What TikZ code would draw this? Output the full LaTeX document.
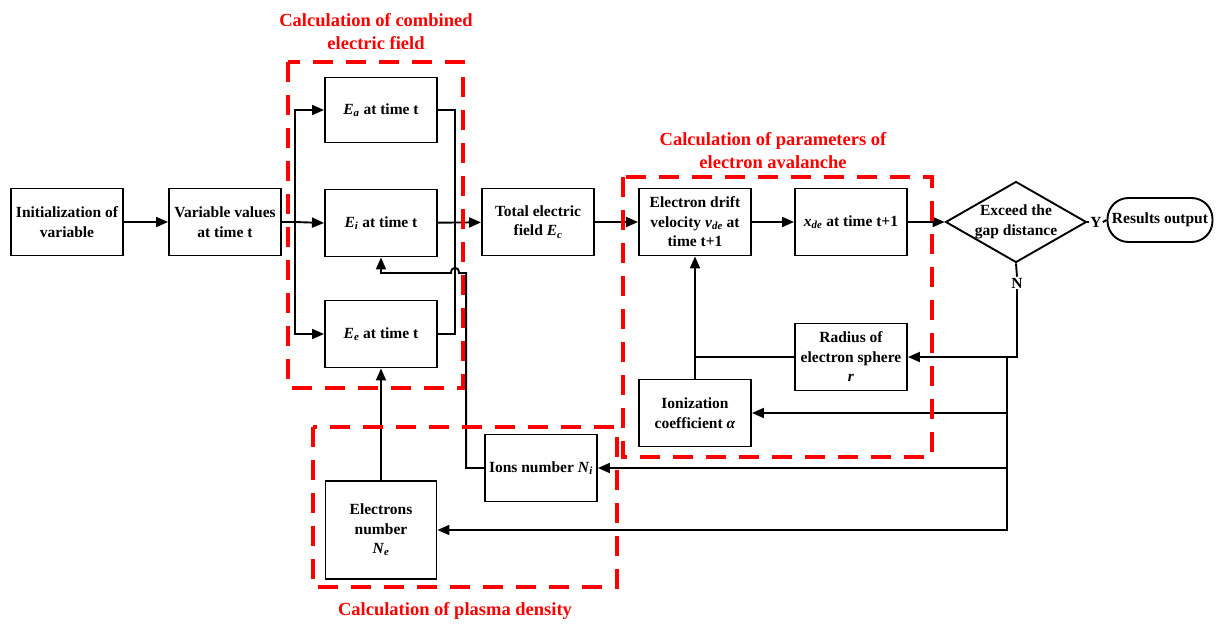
\documentclass[tikz,border=0pt]{standalone}
\usepackage{fontspec}
\setmainfont{Liberation Serif}
\usetikzlibrary{arrows.meta,shapes.geometric}
\newcommand\sym[2]{\textit{#1}\textsubscript{\textit{#2}}}
\begin{document}
\begin{tikzpicture}[x=1pt,y=-1pt,
  every node/.style={font=\fontsize{15.5}{19.5}\selectfont\bfseries},
  box/.style={draw,line width=1.9pt,minimum width=112pt,minimum height=67pt,align=center,inner sep=2pt},
  dec/.style={draw,line width=1.9pt,diamond,aspect=1.74,minimum width=136pt,minimum height=78pt,inner sep=0pt,align=center},
  res/.style={draw,line width=1.9pt,rounded corners=21pt,minimum width=105pt,minimum height=44pt},
  ln/.style={line width=1.9pt},
  arr/.style={line width=1.9pt,-{Triangle[length=12pt,width=10pt]}},
  reddash/.style={draw=red,line width=3.2pt,dash pattern=on 20pt off 13pt},
  redlab/.style={text=red,align=center,font=\fontsize{18.5}{23}\selectfont\bfseries}]
\useasboundingbox (0,0) rectangle (1218,626);
% boxes
\node[box] (init) at (67,222) {Initialization of\\variable};
\node[box] (var) at (225,222) {Variable values\\at time t};
\node[box,minimum height=65pt] (ea) at (381,110) {\sym{E}{a} at time t};
\node[box] (ei) at (381,223) {\sym{E}{i} at time t};
\node[box] (ee) at (381,334) {\sym{E}{e} at time t};
\node[box] (tot) at (538,222) {Total electric\\field \sym{E}{c}};
\node[box] (drift) at (695,222) {Electron drift\\velocity \sym{v}{de} at\\time t+1};
\node[box] (xde) at (851,222) {\sym{x}{de} at time t+1};
\node[dec] (dec) at (1016,222) {Exceed the\\gap distance};
\node[inner sep=1pt] (Y) at (1096,222) {Y};
\node[res] (res) at (1160,220) {Results output};
\node[inner sep=1pt] (N) at (1017,283) {N};
\node[box] (rad) at (851,357) {Radius of\\electron sphere\\\textit{r}};
\node[box] (ion) at (695,413) {Ionization\\coefficient \textit{α}};
\node[box] (ions) at (541,468) {Ions number \sym{N}{i}};
\node[box,minimum width=111pt,minimum height=98pt] (el) at (381,530) {Electrons\\number\\\sym{N}{e}};
% connectors
\draw[arr] (init) -- (var);
\coordinate (b) at (295,222);
\draw[ln] (var.east) -- (b);
\draw[arr] (b) |- (ea.west);
\draw[arr] (b) |- (ee.west);
\draw[arr] (b) -- (ei.west);
\coordinate (j) at (455,222);
\draw[ln] (ea.east) -| (j);
\draw[ln] (ee.east) -| (j);
\draw[arr] (ei) -- (tot);
\draw[arr] (tot) -- (drift);
\draw[arr] (drift) -- (xde);
\draw[arr] (xde) -- (dec);
\draw[ln] (dec.east) -- (Y.west);
\draw[ln] (Y.east) -- (res.west);
\draw[ln] (dec.south) -- (N.north);
\coordinate (nc) at (1017,357);
\draw[arr] (N.south) -- (nc) -- (rad.east);
\coordinate (fb) at (1007,357);
\draw[arr] (fb) |- (ion.east);
\draw[arr] (fb) |- (ions.east);
\draw[arr] (fb) |- (el.east);
\draw[ln] (rad.west) -- (ion.north |- rad.west);
\draw[arr] (ion.north) -- (drift.south);
\draw[arr] (el.north) -- (ee.south);
\coordinate (h1) at (459,273);
\coordinate (h2) at (451,273);
\draw[arr] (ions.west) -- ++(-18,0) |- (h1) .. controls (459,266) and (451,266) .. (h2) -| (ei.south);
% dashed groups
\draw[reddash] (288,62) rectangle (463,388);
\draw[reddash] (623,177) rectangle (932,457);
\draw[reddash] (313,427) rectangle (617,587);
\node[redlab] (l1) at (376,32) {Calculation of combined\\electric field};
\node[redlab] (l2) at (773,151) {Calculation of parameters of\\electron avalanche};
\node[redlab] (l3) at (455,611) {Calculation of plasma density};
\end{tikzpicture}
\end{document}
